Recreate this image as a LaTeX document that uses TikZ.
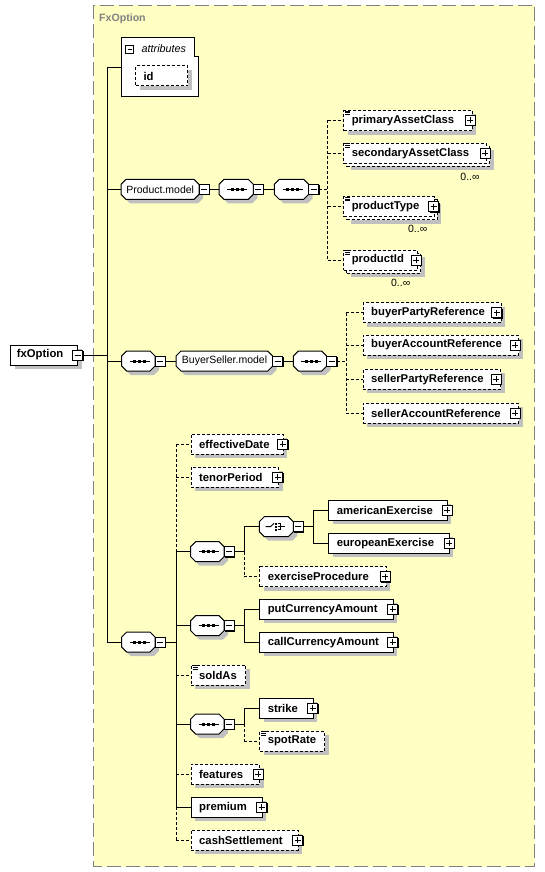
\documentclass[tikz,border=0pt]{standalone}
\usepackage{fontspec}
\setmainfont{Liberation Sans}
\usetikzlibrary{shadows,calc}
\pgfdeclarelayer{back}
\pgfdeclarelayer{mid}
\pgfsetlayers{back,mid,main}
\definecolor{bgyel}{RGB}{255,255,196}
\definecolor{shd}{RGB}{192,192,192}
\definecolor{frm}{RGB}{128,128,128}
\tikzset{
  ebox/.style={draw=black, fill=white, line width=1pt, minimum height=20pt, inner sep=0pt, anchor=west},
  shad/.style={drop shadow={shadow xshift=4pt, shadow yshift=-4pt, fill=shd, draw=none, opacity=1}},
  opt/.style={dash pattern=on 3pt off 2pt},
  lbl/.style={font=\fontsize{11.3}{13}\selectfont\bfseries, inner sep=0pt, anchor=west},
  octn/.style={draw=none, minimum height=20pt, inner sep=0pt, anchor=west, font=\fontsize{10.5}{12}\selectfont},
  octline/.style={draw=black, fill=white, line width=1pt},
  pmbox/.style={draw=black, fill=white, line width=1pt, minimum size=10pt, inner sep=0pt, drop shadow={shadow xshift=1pt, shadow yshift=-1pt, fill=black, draw=none, opacity=1}},
  pmminus/.style={path picture={\draw[line width=1pt] ([xshift=2pt]path picture bounding box.west) -- ([xshift=-2pt]path picture bounding box.east);}},
  pmplus/.style={path picture={\draw[line width=1pt] ([xshift=2pt]path picture bounding box.west) -- ([xshift=-2pt]path picture bounding box.east) ([yshift=-2pt]path picture bounding box.north) -- ([yshift=2pt]path picture bounding box.south);}},
  conn/.style={line width=1pt},
  oconn/.style={line width=1pt, dash pattern=on 3pt off 2pt},
  mult/.style={font=\fontsize{10.5}{12}\selectfont, inner sep=0pt},
}
% name, x1, x2, yc, text, style, plus-x
\newcommand\xelem[7]{%
  \node[ebox,shad,#6,minimum width={#3pt-#2pt}] (#1) at (#2,#4) {};
  \node[lbl] (#1-t) at ($(#1.west)+(8.3,0)$) {#5};
  \ifx\relax#7\relax\else\node[pmbox,pmplus] (#1-p) at (#7,#4) {};\fi
}
% name, x1, x2, yc, text, plus-x, mult-x, mult-y
\newcommand\xmulti[8]{%
  \node[ebox,shad,opt,minimum width={#3pt-#2pt}] (#1-b) at (#2+3,#4+3) {};
  \node[ebox,opt,minimum width={#3pt-#2pt}] (#1) at (#2,#4) {};
  \node[lbl] (#1-t) at ($(#1.west)+(8.3,0)$) {#5};
  \node[pmbox,pmplus] (#1-p) at (#6,#4) {};
  \node[mult] (#1-n) at (#7,#8) {0..∞};
  \xsimp{#1}
}
\newcommand\xsimp[1]{%
  \foreach \dy in {1,2.7,4.4} \draw[line width=0.8pt] ($(#1.north west)+(2,\dy)$) -- ++(5,0);
}
% octagon: name, x1, x2, yc, text
\newcommand\xoct[5]{%
  \fill[shd] (#2+9,#4-6) -- (#3-1,#4-6) -- (#3+4,#4-1) -- (#3+4,#4+9) -- (#3-1,#4+14) -- (#2+9,#4+14) -- (#2+4,#4+9) -- (#2+4,#4-1) -- cycle;
  \draw[octline] (#2+5,#4-10) -- (#3-5,#4-10) -- (#3,#4-5) -- (#3,#4+5) -- (#3-5,#4+10) -- (#2+5,#4+10) -- (#2,#4+5) -- (#2,#4-5) -- cycle;
  \node[octn, minimum width={#3pt-#2pt}] (#1) at (#2,#4) {#5};
  \node[pmbox,pmminus] (#1-m) at (#3+5,#4) {};
}
\newcommand\xseqicon[1]{%
  \draw[line width=1pt] ($(#1.center)+(-9,0)$) -- ($(#1.center)+(11,0)$);
  \foreach \dx in {-4,1,6} \fill ($(#1.center)+(\dx-1.5,-1.5)$) rectangle ++(3,3);
}
\begin{document}
\begin{tikzpicture}[x=1pt,y=-1pt]
\useasboundingbox (0,0) rectangle (545,872);
\begin{pgfonlayer}{back}
\fill[white] (0,0) rectangle (545,872);
\draw[frm, line width=1pt, dash pattern=on 14pt off 5pt, fill=bgyel] (93.5,5.5) rectangle (534.5,866.5);
\end{pgfonlayer}
\node[anchor=west, inner sep=0pt, text=frm, font=\fontsize{10.6}{12}\selectfont\bfseries] (title) at (99,18.7) {FxOption};

% attributes group
\node[inner sep=0pt, minimum width=77pt, minimum height=59pt] (attr) at (159.5,67.5) {};
\draw[line width=1pt, fill=white] (121,38) -- (194,38) -- (194,57) -- (198,57) -- (198,97) -- (121,97) -- cycle;
\node[draw, fill=white, line width=1pt, minimum size=8pt, inner sep=0pt, pmminus] (attr-m) at (129.5,49.2) {};
\node[anchor=west, inner sep=0pt, font=\fontsize{10.8}{12}\selectfont\itshape] (attr-t) at (141.5,49) {attributes};
\xelem{id}{135}{187}{76}{id}{opt}{}

% root
\node[ebox,shad,minimum width=67.3pt] (fx) at (10,355) {};
\node[lbl] (fx-t) at ($(fx.west)+(6.7,0)$) {fxOption};
\node[pmbox,pmminus] (fx-m) at (77.7,355) {};
\coordinate (J0) at (107,355);

% Product.model row
\xoct{pmod}{121}{199}{189.3}{Product.model}
\xoct{sA1}{219}{253.3}{189.3}{}
\xseqicon{sA1}
\xoct{sA2}{274.3}{308.7}{189.3}{}
\xseqicon{sA2}
\coordinate (JA) at (327.5,189.3);
\xelem{pac}{343.3}{471.7}{120.5}{primaryAssetClass}{opt}{470}
\xsimp{pac}
\xmulti{sac}{343.3}{486}{153.3}{secondaryAssetClass}{485.3}{470}{177.3}
\xmulti{ptype}{343.3}{433.7}{206.7}{productType}{433.5}{417.7}{229.3}
\xmulti{pid}{343.3}{417}{260}{productId}{416}{400.7}{282.7}

% BuyerSeller row
\xoct{sB}{121.7}{155}{361}{}
\xseqicon{sB}
\xoct{bs}{176}{272.7}{361}{BuyerSeller.model}
\xoct{sB2}{293.3}{326.7}{361}{}
\xseqicon{sB2}
\coordinate (JB) at (346,361);
\xelem{bpr}{362.7}{500.7}{312.7}{buyerPartyReference}{opt}{496.7}
\xelem{bar}{362.7}{518.3}{345}{buyerAccountReference}{opt}{515}
\xelem{spr}{362.7}{500}{379.3}{sellerPartyReference}{opt}{496}
\xelem{sar}{362.7}{518.3}{413.3}{sellerAccountReference}{opt}{515}

% lower sequence
\xoct{sC}{121.7}{155}{642}{}
\xseqicon{sC}
\coordinate (J1) at (176,642);
\xelem{eff}{190.7}{282.7}{444.3}{effectiveDate}{opt}{282.8}
\xelem{ten}{190.7}{278.3}{477.3}{tenorPeriod}{opt}{277.5}
\xoct{sD}{190.7}{224}{551.7}{}
\xseqicon{sD}
\coordinate (J2) at (244.3,551.7);
\xoct{ch}{259.3}{293.3}{526.7}{}
\draw[line width=1pt] ($(ch.center)+(-11,0)$) -- ($(ch.center)+(-6,0)$) -- ($(ch.center)+(-2.5,-3.5)$);
\foreach \dy in {-3,0,3} \fill ($(ch.center)+(-2,\dy-1)$) rectangle ++(2,2);
\draw[line width=1pt] ($(ch.center)+(1,-3)$) -- ($(ch.center)+(3.5,-3)$) -- ($(ch.center)+(3.5,3)$) -- ($(ch.center)+(1,3)$);
\draw[line width=1pt] ($(ch.center)+(1,0)$) -- ($(ch.center)+(8,0)$);
\coordinate (J3) at (313.3,526.7);
\xelem{amer}{328.3}{446.7}{510}{americanExercise}{}{447}
\xelem{euro}{328.3}{448.7}{543.3}{europeanExercise}{}{449.3}
\xelem{exp}{259.3}{385.7}{576.7}{exerciseProcedure}{opt}{385.3}
\xoct{sE}{190.7}{224}{625.7}{}
\xseqicon{sE}
\coordinate (J4) at (244,625.7);
\xelem{put}{259.3}{392.7}{609.3}{putCurrencyAmount}{}{392.8}
\xelem{call}{259.3}{392.7}{642.3}{callCurrencyAmount}{}{392.8}
\xelem{sold}{190.7}{245}{675}{soldAs}{opt}{}
\xsimp{sold}
\xoct{sF}{190.7}{224}{724}{}
\xseqicon{sF}
\coordinate (J5) at (244.3,724);
\xelem{strike}{259.3}{312.7}{708.3}{strike}{}{312.8}
\xelem{spot}{259.3}{324}{741}{spotRate}{opt}{}
\xsimp{spot}
\xelem{feat}{190.7}{259.3}{774}{features}{opt}{258.3}
\xelem{prem}{190.7}{261.7}{807.3}{premium}{}{261.7}
\xelem{cash}{190.7}{297.7}{840.3}{cashSettlement}{opt}{297.5}

\begin{pgfonlayer}{mid}
% root
\draw[conn] (fx-m.east) -- (J0);
\draw[conn] (J0 |- attr.west) -- (J0 |- sC.west);
\draw[conn] (J0 |- attr.west) -- (attr.west);
\draw[conn] (J0 |- pmod.west) -- (pmod.west);
\draw[conn] (J0 |- sB.west) -- (sB.west);
\draw[conn] (J0 |- sC.west) -- (sC.west);
% product
\draw[conn] (pmod-m.east) -- (sA1.west);
\draw[conn] (sA1-m.east) -- (sA2.west);
\draw[oconn] (sA2-m.east) -- (JA);
\draw[oconn] (JA |- pac.west) -- (JA |- pid.west);
\draw[oconn] (JA |- pac.west) -- (pac.west);
\draw[oconn] (JA |- sac.west) -- (sac.west);
\draw[oconn] (JA |- ptype.west) -- (ptype.west);
\draw[oconn] (JA |- pid.west) -- (pid.west);
% buyer seller
\draw[conn] (sB-m.east) -- (bs.west);
\draw[conn] (bs-m.east) -- (sB2.west);
\draw[oconn] (sB2-m.east) -- (JB);
\draw[oconn] (JB |- bpr.west) -- (JB |- sar.west);
\draw[oconn] (JB |- bpr.west) -- (bpr.west);
\draw[oconn] (JB |- bar.west) -- (bar.west);
\draw[oconn] (JB |- spr.west) -- (spr.west);
\draw[oconn] (JB |- sar.west) -- (sar.west);
% lower
\draw[conn] (sC-m.east) -- (J1);
\draw[oconn] (J1 |- eff.west) -- (J1 |- sD.west);
\draw[conn] (J1 |- sD.west) -- (J1 |- prem.west);
\draw[oconn] (J1 |- prem.west) -- (J1 |- cash.west);
\draw[oconn] (J1 |- eff.west) -- (eff.west);
\draw[oconn] (J1 |- ten.west) -- (ten.west);
\draw[conn] (J1 |- sD.west) -- (sD.west);
\draw[conn] (J1 |- sE.west) -- (sE.west);
\draw[oconn] (J1 |- sold.west) -- (sold.west);
\draw[conn] (J1 |- sF.west) -- (sF.west);
\draw[oconn] (J1 |- feat.west) -- (feat.west);
\draw[conn] (J1 |- prem.west) -- (prem.west);
\draw[oconn] (J1 |- cash.west) -- (cash.west);
% exercise
\draw[conn] (sD-m.east) -- (J2);
\draw[conn] (J2 |- ch.west) -- (J2);
\draw[oconn] (J2) -- (J2 |- exp.west);
\draw[conn] (J2 |- ch.west) -- (ch.west);
\draw[oconn] (J2 |- exp.west) -- (exp.west);
\draw[conn] (ch-m.east) -- (J3);
\draw[conn] (J3 |- amer.west) -- (J3 |- euro.west);
\draw[conn] (J3 |- amer.west) -- (amer.west);
\draw[conn] (J3 |- euro.west) -- (euro.west);
% currency amounts
\draw[conn] (sE-m.east) -- (J4);
\draw[conn] (J4 |- put.west) -- (J4 |- call.west);
\draw[conn] (J4 |- put.west) -- (put.west);
\draw[conn] (J4 |- call.west) -- (call.west);
% strike
\draw[conn] (sF-m.east) -- (J5);
\draw[conn] (J5 |- strike.west) -- (J5);
\draw[oconn] (J5) -- (J5 |- spot.west);
\draw[conn] (J5 |- strike.west) -- (strike.west);
\draw[oconn] (J5 |- spot.west) -- (spot.west);
\end{pgfonlayer}
\end{tikzpicture}
\end{document}
